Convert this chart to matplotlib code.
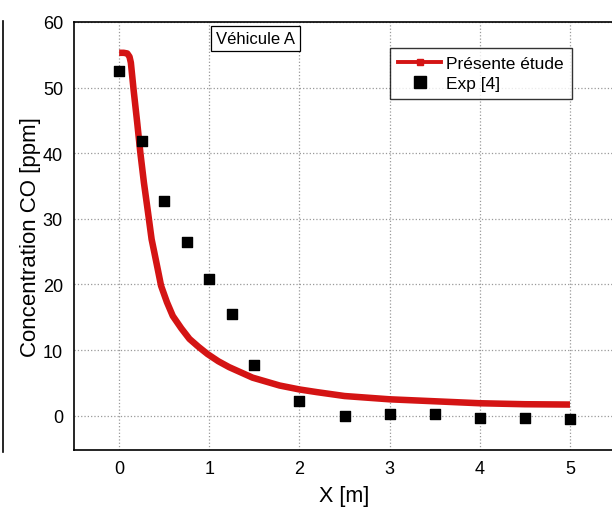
import matplotlib
matplotlib.use('Agg')
from matplotlib import pyplot as plt
from matplotlib.lines import Line2D

plt.rcParams['font.family'] = ['Liberation Sans', 'DejaVu Sans']

# simulation curve
sim_x = [0.0, 0.05, 0.09, 0.115, 0.13, 0.16, 0.2, 0.235, 0.275, 0.32, 0.36, 0.39, 0.43, 0.465,
         0.53, 0.595, 0.69, 0.78, 0.88, 0.98, 1.1, 1.22, 1.35, 1.48, 1.63, 1.78, 2.0, 2.19,
         2.5, 3.0, 3.5, 4.0, 4.5, 5.0]
sim_y = [55.3, 55.3, 55.2, 54.7, 53.8, 49.7, 44.7, 40.1, 35.5, 31.0, 26.9, 24.9, 22.2, 19.8,
         17.3, 15.2, 13.3, 11.7, 10.5, 9.4, 8.3, 7.4, 6.6, 5.8, 5.2, 4.6, 4.0, 3.6,
         3.0, 2.5, 2.2, 1.9, 1.75, 1.7]

# experimental points
exp_x = [0.0, 0.25, 0.5, 0.75, 1.0, 1.25, 1.5, 2.0, 2.5, 3.0, 3.5, 4.0, 4.5, 5.0]
exp_y = [52.5, 41.9, 32.7, 26.5, 20.8, 15.5, 7.8, 2.3, 0.0, 0.2, 0.2, -0.3, -0.3, -0.5]

fig = plt.figure(figsize=(6.12, 5.1), dpi=100)
ax = fig.add_axes([0.121, 0.116, 0.884, 0.839])

ax.grid(True, color='0.6', linestyle=':', linewidth=0.9)
ax.set_axisbelow(True)

ax.plot(sim_x, sim_y, color='#d41414', linewidth=4.7, solid_capstyle='butt',
        solid_joinstyle='round', zorder=3)
ax.scatter(exp_x, exp_y, marker='s', s=42, color='black', zorder=4)

ax.set_xlim(-0.5, 5.5)
ax.set_ylim(-5.2, 60)
ax.set_xticks([0, 1, 2, 3, 4, 5])
ax.set_yticks([0, 10, 20, 30, 40, 50, 60])
ax.tick_params(length=0, labelsize=13)
ax.tick_params(axis='y', pad=8)
ax.tick_params(axis='x', pad=7)
for s in ax.spines.values():
    s.set_linewidth(1.2)

ax.set_xlabel('X [m]', fontsize=15.5, labelpad=6)
ax.set_ylabel('Concentration CO [ppm]', fontsize=16, labelpad=1)

h1 = Line2D([], [], color='#d41414', linewidth=2.8, marker='s', markersize=4.5)
h2 = Line2D([], [], color='black', linestyle='none', marker='s', markersize=8)
leg = ax.legend([h1, h2], ['Présente étude', 'Exp [4]'], loc='upper left',
                bbox_to_anchor=(0.584, 0.94), fontsize=12.5, frameon=True, fancybox=False,
                edgecolor='black', handlelength=2.5, handletextpad=0.3,
                borderpad=0.45, labelspacing=0.3, borderaxespad=0)
leg.get_frame().set_linewidth(1.0)
leg.set_zorder(5)

ax.text(0.262, 0.978, 'Véhicule A', transform=ax.transAxes, fontsize=12,
        va='top', ha='left',
        bbox=dict(boxstyle='square,pad=0.3', facecolor='white', edgecolor='black', linewidth=0.9))

# edge of the neighbouring figure on the left
fig.add_artist(Line2D([0.005, 0.005], [0.112, 0.957], transform=fig.transFigure,
                      color='black', linewidth=1.2))

fig.savefig('out.png', dpi=100)
